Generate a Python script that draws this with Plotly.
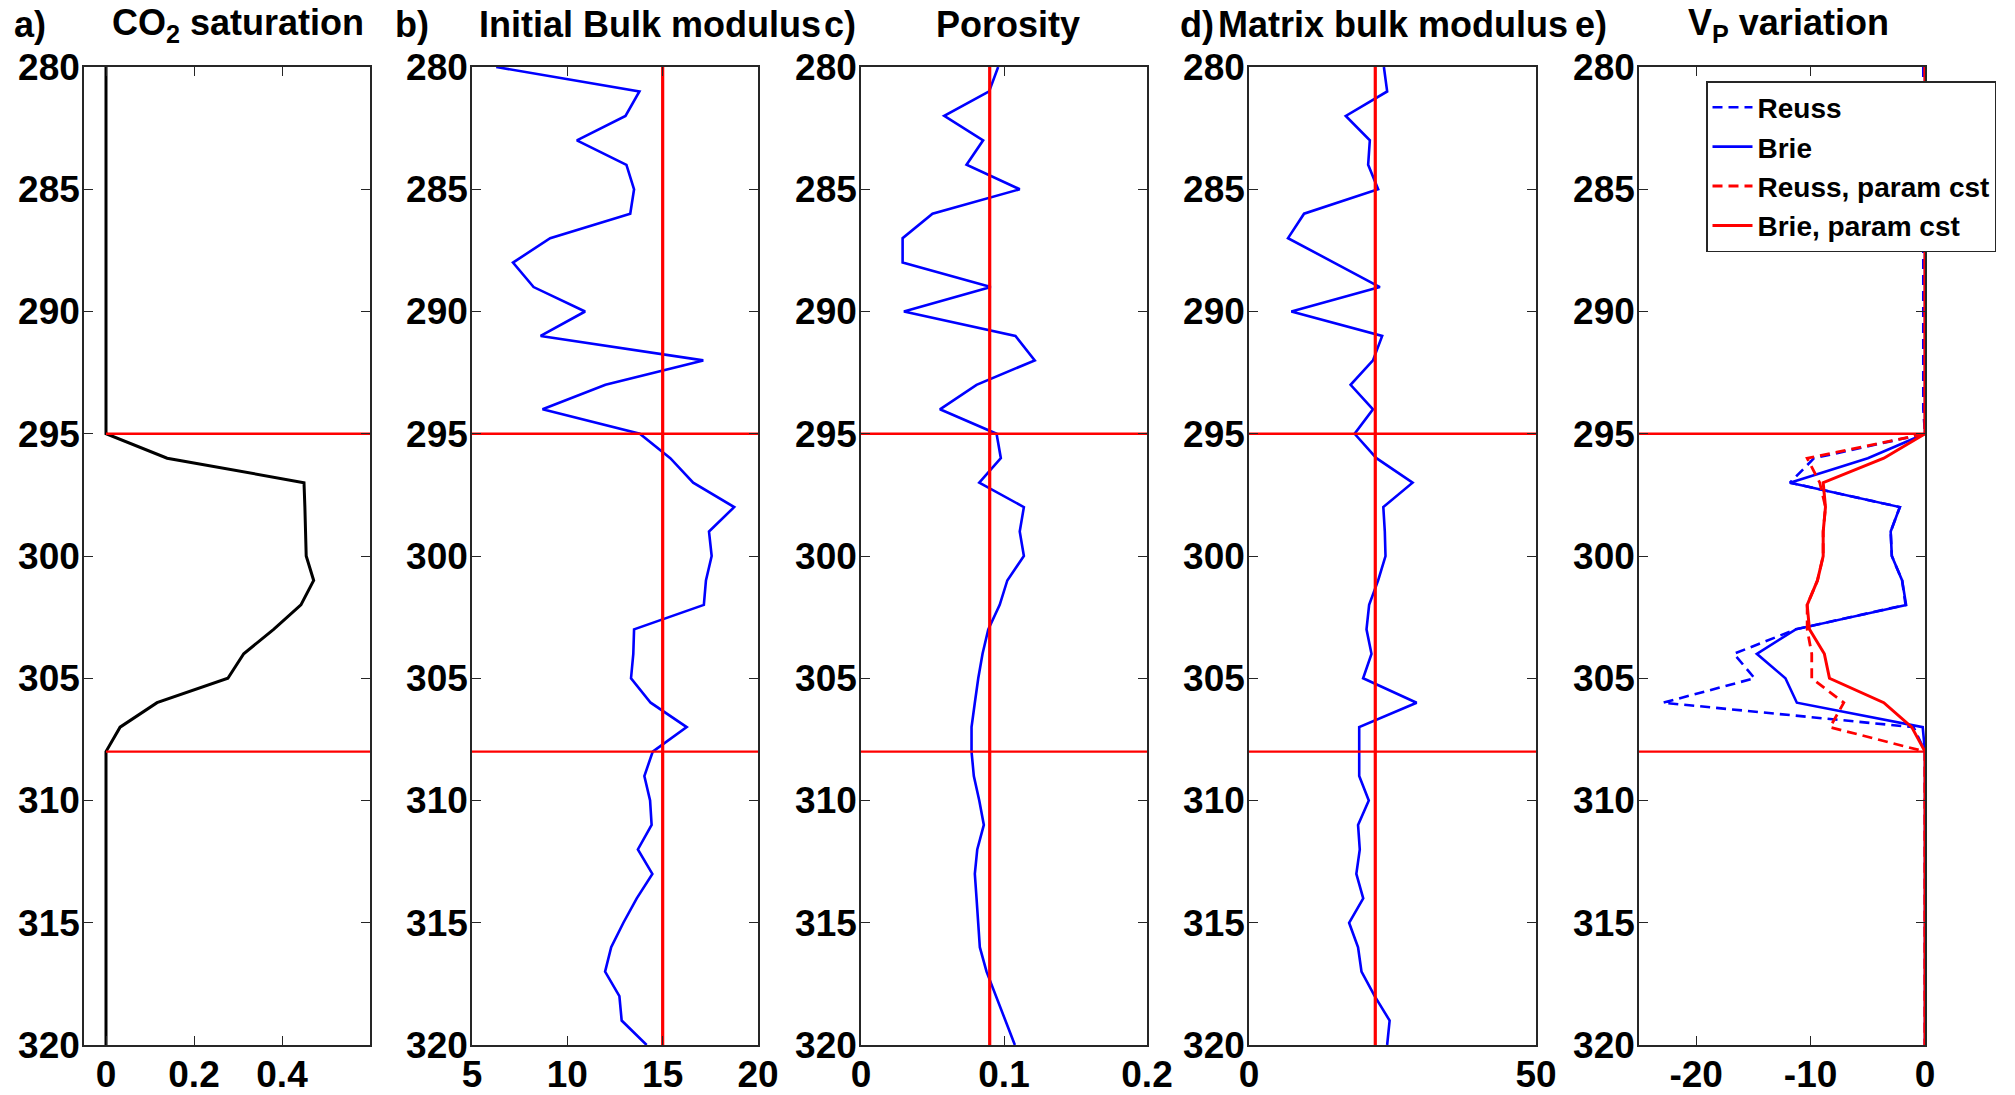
import plotly.graph_objects as go

# ---------------------------------------------------------------- data
depth = [280, 281, 282, 283, 284, 285, 286, 287, 288, 289, 290, 291, 292, 293,
         294, 295, 296, 297, 298, 299, 300, 301, 302, 303, 304, 305, 306, 307,
         308, 309, 310, 311, 312, 313, 314, 315, 316, 317, 318, 319, 320]

co2_saturation = [0, 0, 0, 0, 0, 0, 0, 0, 0, 0, 0, 0, 0, 0, 0,
                  0, 0.139, 0.45, 0.452, 0.453, 0.455, 0.472, 0.443, 0.381,
                  0.313, 0.277, 0.116, 0.032, 0,
                  0, 0, 0, 0, 0, 0, 0, 0, 0, 0, 0, 0]

initial_bulk_modulus = [6.27, 13.78, 13.05, 10.5, 13.1, 13.5, 13.3, 9.1, 7.15,
                        8.23, 10.93, 8.6, 17.13, 12.0, 8.7, 13.8, 15.4, 16.6,
                        18.75, 17.43, 17.57, 17.27, 17.16, 13.5, 13.46, 13.34,
                        14.37, 16.26, 14.48, 14.04, 14.34, 14.42, 13.7, 14.46,
                        13.64, 12.94, 12.3, 11.98, 12.73, 12.85, 14.16]

porosity = [0.0959, 0.0896, 0.0582, 0.0854, 0.0738, 0.111, 0.050, 0.0291,
            0.0291, 0.0908, 0.030, 0.108, 0.1215, 0.0808, 0.0552, 0.0948,
            0.0978, 0.0827, 0.1139, 0.111, 0.1139, 0.1023, 0.097, 0.089,
            0.085, 0.082, 0.0796, 0.0773, 0.0773, 0.0789, 0.0827, 0.0859,
            0.0813, 0.0796, 0.0808, 0.082, 0.0831, 0.0878, 0.0943, 0.1008,
            0.1076]

matrix_bulk_modulus = [23.5, 24.07, 16.86, 21.05, 20.76, 22.5, 9.59, 6.8, 14.8,
                       22.8, 7.38, 23.2, 21.6, 17.7, 21.6, 18.4, 22.2, 28.5,
                       23.4, 23.66, 23.78, 22.5, 20.93, 20.47, 21.34, 19.88,
                       29.2, 19.2, 19.2, 19.2, 20.87, 19.0, 19.3, 18.7, 19.9,
                       17.44, 19.0, 19.6, 21.9, 24.5, 24.07]

vp_reuss = [-0.15, -0.15, -0.15, -0.15, -0.15, -0.15, -0.15, -0.15, -0.15,
            -0.15, -0.15, -0.15, -0.15, -0.15, -0.15,
            0, -9.7, -11.8, -2.2, -3.0, -2.9, -2.0, -1.7, -11.3, -16.7, -14.9,
            -22.9, -1.0, 0,
            0, 0, 0, 0, 0, 0, 0, 0, 0, 0, 0, 0]

vp_brie = [0, 0, 0, 0, 0, 0, 0, 0, 0, 0, 0, 0, 0, 0, 0,
           0, -5.0, -11.8, -2.2, -3.0, -2.9, -2.0, -1.65, -11.3, -14.7, -12.2,
           -11.2, -0.2, 0,
           0, 0, 0, 0, 0, 0, 0, 0, 0, 0, 0, 0]

vp_reuss_cst = [0, 0, 0, 0, 0, 0, 0, 0, 0, 0, 0, 0, 0, 0, 0,
                0, -10.3, -9.2, -8.7, -8.9, -8.9, -9.4, -10.3, -10.3, -9.9,
                -9.9, -7.1, -8.3, 0,
                0, 0, 0, 0, 0, 0, 0, 0, 0, 0, 0, 0]

vp_brie_cst = [0, 0, 0, 0, 0, 0, 0, 0, 0, 0, 0, 0, 0, 0, 0,
               0, -3.6, -8.9, -8.7, -8.9, -8.9, -9.4, -10.3, -10.1, -8.8,
               -8.35, -3.6, -1.16, 0,
               0, 0, 0, 0, 0, 0, 0, 0, 0, 0, 0, 0]

# reservoir zone limits and constant reference parameters
zone_top, zone_base = 295, 308
ref_bulk_modulus = 15
ref_porosity = 0.09
ref_matrix_modulus = 22

panel_titles = ["CO<sub>2</sub> saturation", "Initial Bulk modulus", "Porosity",
                "Matrix bulk modulus", "V<sub>P</sub> variation"]
panel_letters = ["a)", "b)", "c)", "d)", "e)"]

x_ranges = [[-0.05, 0.6], [5, 20], [0, 0.2], [0, 50], [-25, 0]]
x_ticks = [[0, 0.2, 0.4], [5, 10, 15, 20], [0, 0.1, 0.2], [0, 50], [-20, -10, 0]]
x_ticktext = [["0", "0.2", "0.4"], ["5", "10", "15", "20"], ["0", "0.1", "0.2"],
              ["0", "50"], ["-20", "-10", "0"]]
y_ticks = [280, 285, 290, 295, 300, 305, 310, 315, 320]

# ---------------------------------------------------------------- layout helpers
W, H = 2015, 1095
panel_px = [(84, 370), (472, 758), (861, 1147), (1249, 1536), (1639, 1925)]
plot_top_px, plot_bot_px = 67, 1045
letter_px = [30, 412, 840, 1197, 1591]
title_px = [238, 650, 1008, 1393, 1788]

FONT = "Liberation Sans, Arial, Helvetica, sans-serif"
BLUE = "#0000ff"
RED = "#ff0000"

fig = go.Figure()


def ax(i):
    return ("x" if i == 0 else f"x{i + 1}"), ("y" if i == 0 else f"y{i + 1}")


def add_line(i, x, y, color, width, dash="solid", name=None, legend=False):
    xa, ya = ax(i)
    fig.add_trace(go.Scatter(
        x=x, y=y, xaxis=xa, yaxis=ya, mode="lines", name=name,
        showlegend=legend, hoverinfo="skip",
        line=dict(color=color, width=width, dash=dash)))


# a) CO2 saturation
add_line(0, co2_saturation, depth, "black", 3)
# b) initial bulk modulus
add_line(1, initial_bulk_modulus, depth, BLUE, 2.6)
add_line(1, [ref_bulk_modulus, ref_bulk_modulus], [depth[0], depth[-1]], RED, 3.2)
# c) porosity
add_line(2, porosity, depth, BLUE, 2.6)
add_line(2, [ref_porosity, ref_porosity], [depth[0], depth[-1]], RED, 3.2)
# d) matrix bulk modulus
add_line(3, matrix_bulk_modulus, depth, BLUE, 2.6)
add_line(3, [ref_matrix_modulus, ref_matrix_modulus], [depth[0], depth[-1]], RED, 3.2)

# zone limits in every panel
zone_x = [[0, x_ranges[0][1]], x_ranges[1], x_ranges[2], x_ranges[3], x_ranges[4]]
for i in range(5):
    for z in (zone_top, zone_base):
        add_line(i, zone_x[i], [z, z], RED, 2.4)

# e) Vp variation
DASH = "10px,6px"
add_line(4, vp_reuss, depth, BLUE, 2.6, DASH, "Reuss", True)
add_line(4, vp_brie, depth, BLUE, 2.6, "solid", "Brie", True)
add_line(4, vp_reuss_cst, depth, RED, 2.8, DASH, "Reuss, param cst", True)
add_line(4, vp_brie_cst, depth, RED, 3, "solid", "Brie, param cst", True)

tick_font = dict(family=FONT, size=37, color="black", weight="bold")
axis_common = dict(showline=True, mirror="ticks", linecolor="#262626", linewidth=1.5,
                   ticks="inside", ticklen=9, tickwidth=1.2, tickcolor="#262626",
                   showgrid=False, zeroline=False, tickfont=tick_font,
                   automargin=False)

layout = dict(
    width=W, height=H, margin=dict(l=0, r=0, t=0, b=0, autoexpand=False),
    paper_bgcolor="white", plot_bgcolor="white",
    font=dict(family=FONT, color="black"),
    showlegend=True,
    legend=dict(x=1706 / W, y=1 - 81 / H, xanchor="left", yanchor="top",
                bgcolor="white", bordercolor="#262626", borderwidth=1.5,
                font=dict(family=FONT, size=28, color="black", weight="bold"),
                itemwidth=40, tracegroupgap=0),
)

for i in range(5):
    xa, ya = ax(i)
    xkey = "xaxis" if i == 0 else f"xaxis{i + 1}"
    ykey = "yaxis" if i == 0 else f"yaxis{i + 1}"
    x0, x1 = panel_px[i]
    layout[xkey] = dict(axis_common, domain=[x0 / W, x1 / W], range=x_ranges[i],
                        tickmode="array", tickvals=x_ticks[i], ticktext=x_ticktext[i],
                        anchor=ya, ticklabelstandoff=-4)
    layout[ykey] = dict(axis_common, domain=[1 - plot_bot_px / H, 1 - plot_top_px / H],
                        range=[320, 280], tickmode="array", tickvals=y_ticks,
                        anchor=xa, ticklabelstandoff=-5)

fig.update_layout(**layout)

title_font = dict(family=FONT, size=36, color="black", weight="bold")
for i in range(5):
    fig.add_annotation(text=panel_letters[i], xref="paper", yref="paper",
                       x=letter_px[i] / W, y=1 - 25 / H, xanchor="center",
                       yanchor="middle", showarrow=False, font=title_font)
    fig.add_annotation(text=panel_titles[i], xref="paper", yref="paper",
                       x=title_px[i] / W, y=1 - 25 / H, xanchor="center",
                       yanchor="middle", showarrow=False, font=title_font)

fig.write_html("out.html")
